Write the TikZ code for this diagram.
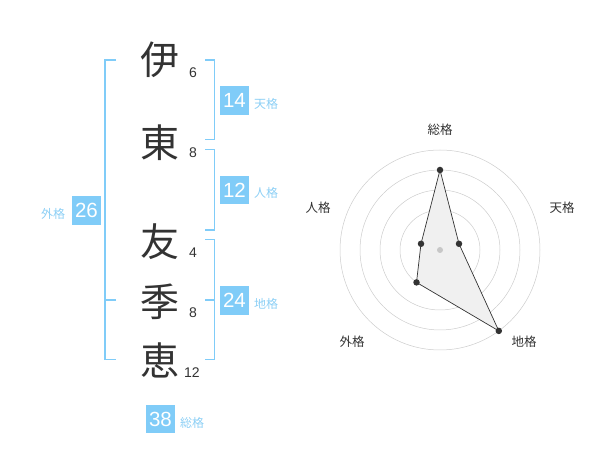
\documentclass[tikz,border=0pt]{standalone}
\usepackage{fontspec}
\setmainfont{Liberation Sans}
\newfontfamily\cjk{Noto Sans CJK JP}
\definecolor{kblue}{HTML}{80CCF8}
\definecolor{klabel}{HTML}{8CCFF5}
\definecolor{ktext}{HTML}{333333}
\definecolor{kgrid}{HTML}{CCCCCC}
\begin{document}
\begin{tikzpicture}[x=1pt,y=-1pt,
  kanji/.style={font=\cjk\fontsize{39}{39}\selectfont, text=ktext, inner sep=0},
  stroke/.style={font=\fontsize{14}{14}\selectfont, text=ktext, inner sep=0},
  valbox/.style={fill=kblue, text=white, minimum width=28.5pt, minimum height=28.5pt, inner sep=0, font=\fontsize{20.5}{20.5}\selectfont},
  vlabel/.style={text=klabel, font=\cjk\fontsize{12}{12}\selectfont, inner sep=0},
  bracket/.style={draw=kblue, line width=1.8pt},
  rlabel/.style={text=ktext, font=\cjk\fontsize{12.5}{12.5}\selectfont, inner sep=0},
  ring/.style={draw=kgrid, line width=0.5pt},
  dot/.style={circle, fill=ktext, inner sep=0, minimum size=6.5pt}
]
\useasboundingbox (0,0) rectangle (600,470);
% kanji
\node[kanji] (k1) at (160,60) {伊};
\node[kanji] (k2) at (160,143) {東};
\node[kanji] (k3) at (160,242) {友};
\node[kanji] (k4) at (160,302) {季};
\node[kanji] (k5) at (160,360) {恵};
\node[stroke] (s1) at (193,73) {6};
\node[stroke] (s2) at (193,153) {8};
\node[stroke] (s3) at (193,253) {4};
\node[stroke] (s4) at (193,313) {8};
\node[stroke] (s5) at (192,373) {12};
% brackets
\coordinate (ta) at (205,60); \coordinate (tb) at (205,139.5);
\draw[bracket] (ta) -- (214.5,60) -- (214.5,139.5) -- (tb);
\coordinate (ja) at (205,149.5); \coordinate (jb) at (205,230);
\draw[bracket] (ja) -- (214.5,149.5) -- (214.5,230) -- (jb);
\coordinate (ca) at (205,239.5); \coordinate (cb) at (205,359.5); \coordinate (cm) at (205,300);
\draw[bracket] (ca) -- (214.5,239.5) -- (214.5,359.5) -- (cb);
\draw[bracket] (cm) -- (214.5,300);
\coordinate (ga) at (116,60); \coordinate (gb) at (116,359.5); \coordinate (gm) at (116,300);
\draw[bracket] (ga) -- (105,60) -- (105,359.5) -- (gb);
\draw[bracket] (gm) -- (105,300);
% value boxes
\node[valbox] (b14) at (234.5,100.5) {14};
\node[vlabel] (l14) at (266,104) {天格};
\node[valbox] (b12) at (234.5,190) {12};
\node[vlabel] (l12) at (266,193) {人格};
\node[valbox] (b24) at (234.5,300.5) {24};
\node[vlabel] (l24) at (266,304) {地格};
\node[valbox] (b26) at (86.5,210.5) {26};
\node[vlabel] (l26) at (53,214) {外格};
\node[valbox] (b38) at (160.5,419) {38};
\node[vlabel] (l38) at (192,423) {総格};
% radar
\coordinate (c) at (440,250);
\foreach \r in {20,40,60,80,100} \draw[ring] (c) circle[radius=\r];
\coordinate (p1) at (440,170);
\coordinate (p2) at (459.0,243.8);
\coordinate (p3) at (498.8,330.9);
\coordinate (p4) at (416.5,282.4);
\coordinate (p5) at (421.0,243.8);
\draw[fill=black!6, draw=ktext, line width=0.7pt] (p1) -- (p2) -- (p3) -- (p4) -- (p5) -- cycle;
\node[circle, fill=black!22, inner sep=0, minimum size=6pt] (cd) at (c) {};
\foreach \p in {p1,p2,p3,p4,p5} \node[dot] (d\p) at (\p) {};
\node[rlabel] (r1) at (440,130) {総格};
\node[rlabel] (r2) at (562,208) {天格};
\node[rlabel] (r3) at (524,342) {地格};
\node[rlabel] (r4) at (352,342) {外格};
\node[rlabel] (r5) at (318,208) {人格};
\end{tikzpicture}
\end{document}
